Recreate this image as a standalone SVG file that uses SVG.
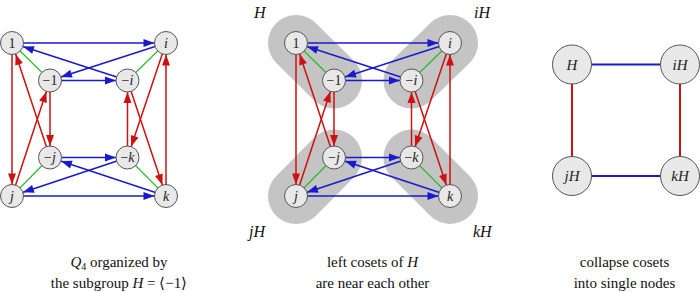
<svg xmlns="http://www.w3.org/2000/svg" width="700" height="292" viewBox="0 0 700 292" font-family="Liberation Serif, serif">
<style>
.bg{fill:#ffffff}
.b{stroke:#1a1acc;stroke-width:1.5;fill:none}
.r{stroke:#cc1111;stroke-width:1.5;fill:none}
.g{stroke:#22bb22;stroke-width:1.1;fill:none}
.ba{marker-end:url(#ab)}
.ra{marker-end:url(#ar)}
.n circle{fill:#e8e8e8;stroke:#555555;stroke-width:1}
.n text{font-size:14px;text-anchor:middle;fill:#222}
.it{font-style:italic}
.blob{stroke:#c4c4c4;stroke-width:56;stroke-linecap:round;fill:none}
.lab{font-size:16px;font-style:italic;fill:#111}
.cap{font-size:15px;text-anchor:middle;fill:#111}
.big circle{fill:#e8e8e8;stroke:#555555;stroke-width:1}
.big text{font-size:15px;font-style:italic;text-anchor:middle;fill:#222}
</style>
<defs>
<marker id="ab" markerUnits="userSpaceOnUse" orient="auto" refX="0" refY="0" markerWidth="1" markerHeight="1" style="overflow:visible">
<path d="M-22.5,-4 L-11.5,0 L-22.5,4 z" fill="#1a1acc"/>
</marker>
<marker id="ar" markerUnits="userSpaceOnUse" orient="auto" refX="0" refY="0" markerWidth="1" markerHeight="1" style="overflow:visible">
<path d="M-22.5,-4 L-11.5,0 L-22.5,4 z" fill="#cc1111"/>
</marker>
<g id="edges-template">
<path class="b ba" d="M12,43 L166,43"/>
<path class="b ba" d="M166,43 L50,80.5"/>
<path class="b ba" d="M50,80.5 L127.5,80.5"/>
<path class="b ba" d="M127.5,80.5 L12,43"/>
<path class="b ba" d="M12,196 L166,196"/>
<path class="b ba" d="M166,196 L50,157.5"/>
<path class="b ba" d="M50,157.5 L127.5,157.5"/>
<path class="b ba" d="M127.5,157.5 L12,196"/>
<path class="r ra" d="M12,43 L12,196"/>
<path class="r ra" d="M12,196 L50,80.5"/>
<path class="r ra" d="M50,80.5 L50,157.5"/>
<path class="r ra" d="M50,157.5 L12,43"/>
<path class="r ra" d="M166,196 L166,43"/>
<path class="r ra" d="M166,43 L127.5,157.5"/>
<path class="r ra" d="M127.5,157.5 L127.5,80.5"/>
<path class="r ra" d="M127.5,80.5 L166,196"/>
<path class="g" d="M12,43 L50,80.5"/>
<path class="g" d="M166,43 L127.5,80.5"/>
<path class="g" d="M12,196 L50,157.5"/>
<path class="g" d="M166,196 L127.5,157.5"/>
</g>
</defs>
<rect class="bg" x="0" y="0" width="700" height="292"/>

<!-- Left diagram -->
<g id="left">
<g id="connectors-left"><use href="#edges-template"/></g>
<g id="L-1" class="n"><circle cx="12" cy="43" r="11.5"/><text x="12" y="47.5">1</text></g>
<g id="L-i" class="n"><circle cx="166" cy="43" r="11.5"/><text class="it" x="166" y="47.5">i</text></g>
<g id="L-m1" class="n"><circle cx="50" cy="80.5" r="11.5"/><text x="50" y="85">−1</text></g>
<g id="L-mi" class="n"><circle cx="127.5" cy="80.5" r="11.5"/><text x="127.5" y="85">−<tspan class="it">i</tspan></text></g>
<g id="L-mj" class="n"><circle cx="50" cy="157.5" r="11.5"/><text x="50" y="162">−<tspan class="it">j</tspan></text></g>
<g id="L-mk" class="n"><circle cx="127.5" cy="157.5" r="11.5"/><text x="127.5" y="162">−<tspan class="it">k</tspan></text></g>
<g id="L-j" class="n"><circle cx="12" cy="196" r="11.5"/><text class="it" x="12" y="200.5">j</text></g>
<g id="L-k" class="n"><circle cx="166" cy="196" r="11.5"/><text class="it" x="166" y="200.5">k</text></g>
</g>

<!-- Middle diagram -->
<g id="middle" transform="translate(284,0)">
<g id="cosets">
<path class="blob" d="M12,43 L50,80.5"/>
<path class="blob" d="M166,43 L127.5,80.5"/>
<path class="blob" d="M12,196 L50,157.5"/>
<path class="blob" d="M166,196 L127.5,157.5"/>
</g>
<g id="connectors-middle"><use href="#edges-template"/></g>
<g id="M-1" class="n"><circle cx="12" cy="43" r="11.5"/><text x="12" y="47.5">1</text></g>
<g id="M-i" class="n"><circle cx="166" cy="43" r="11.5"/><text class="it" x="166" y="47.5">i</text></g>
<g id="M-m1" class="n"><circle cx="50" cy="80.5" r="11.5"/><text x="50" y="85">−1</text></g>
<g id="M-mi" class="n"><circle cx="127.5" cy="80.5" r="11.5"/><text x="127.5" y="85">−<tspan class="it">i</tspan></text></g>
<g id="M-mj" class="n"><circle cx="50" cy="157.5" r="11.5"/><text x="50" y="162">−<tspan class="it">j</tspan></text></g>
<g id="M-mk" class="n"><circle cx="127.5" cy="157.5" r="11.5"/><text x="127.5" y="162">−<tspan class="it">k</tspan></text></g>
<g id="M-j" class="n"><circle cx="12" cy="196" r="11.5"/><text class="it" x="12" y="200.5">j</text></g>
<g id="M-k" class="n"><circle cx="166" cy="196" r="11.5"/><text class="it" x="166" y="200.5">k</text></g>
</g>
<text class="lab" x="254" y="18">H</text>
<text class="lab" x="474" y="18">iH</text>
<text class="lab" x="249" y="236.5">jH</text>
<text class="lab" x="473" y="236.5">kH</text>

<!-- Right diagram -->
<g id="connectors-right">
<line x1="572" y1="64.5" x2="680" y2="64.5" stroke="#1a1acc" stroke-width="2"/>
<line x1="572" y1="176" x2="680" y2="176" stroke="#1a1acc" stroke-width="2"/>
<line x1="572" y1="64.5" x2="572" y2="176" stroke="#cc1111" stroke-width="2"/>
<line x1="680" y1="64.5" x2="680" y2="176" stroke="#cc1111" stroke-width="2"/>
</g>
<g id="R-H" class="big"><circle cx="572" cy="64.5" r="19.5"/><text x="572" y="69.5">H</text></g>
<g id="R-iH" class="big"><circle cx="680" cy="64.5" r="19.5"/><text x="680" y="69.5">iH</text></g>
<g id="R-jH" class="big"><circle cx="572" cy="176" r="19.5"/><text x="572" y="181">jH</text></g>
<g id="R-kH" class="big"><circle cx="680" cy="176" r="19.5"/><text x="680" y="181">kH</text></g>

<!-- Captions -->
<text class="cap" x="119" y="267" font-size="14.5px"><tspan font-style="italic">Q</tspan><tspan font-size="10px" dy="2.5">4</tspan><tspan dy="-2.5"> organized by</tspan></text>
<text class="cap" x="119" y="288">the subgroup <tspan font-style="italic">H</tspan> = ⟨−1⟩</text>
<text class="cap" x="372.5" y="267">left cosets of <tspan font-style="italic">H</tspan></text>
<text class="cap" x="372.5" y="288">are near each other</text>
<text class="cap" x="624.5" y="267">collapse cosets</text>
<text class="cap" x="624.5" y="288">into single nodes</text>
</svg>
